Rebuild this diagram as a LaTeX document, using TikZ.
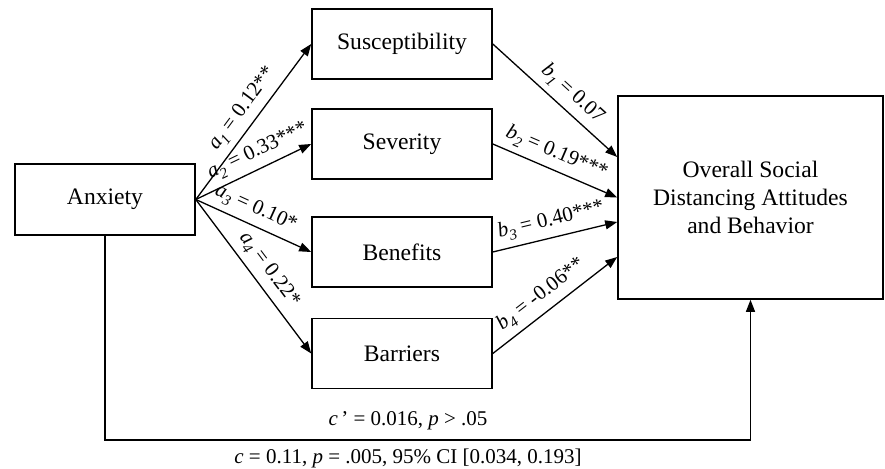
\documentclass[tikz,border=0pt]{standalone}
\usepackage{fontspec}
\setmainfont{Liberation Serif}
\usetikzlibrary{arrows.meta}
\newcommand{\vsub}[2]{\textit{#1}\raisebox{-0.55ex}{\fontsize{7.5}{8}\selectfont\textit{#2}}}
\begin{document}
\begin{tikzpicture}[x=0.5pt,y=-0.5pt,
  box/.style={draw, line width=0.8pt, minimum width=90pt, minimum height=35pt, inner sep=0pt,
    font=\fontsize{11.8}{14}\selectfont},
  arr/.style={-{Triangle[length=6pt,width=4.5pt]}, line width=0.65pt},
  lab/.style={font=\fontsize{10.5}{12}\selectfont, sloped, above=2pt, inner sep=1pt},
  plainlab/.style={font=\fontsize{10.5}{12}\selectfont, inner sep=0pt}]
\useasboundingbox (0,0) rectangle (885,469);
\node[box, minimum height=35.5pt] (anx) at (105,199.5) {Anxiety};
\node[box] (sus) at (402,44) {Susceptibility};
\node[box] (sev) at (402,144) {Severity};
\node[box] (ben) at (402,252) {Benefits};
\node[box] (bar) at (402,353.5) {Barriers};
\node[box, minimum width=132.5pt, minimum height=101.5pt, align=center] (out) at (750.5,197.5)
  {Overall Social\\Distancing Attitudes\\and Behavior};
\coordinate (t1) at ([yshift=20.25pt]out.west);
\coordinate (t2) at (out.west);
\coordinate (t3) at ([yshift=-12.25pt]out.west);
\coordinate (t4) at ([yshift=-29.75pt]out.west);
\draw[arr] (anx.east) -- node[lab, pos=0.52] {\vsub{a}{1} = 0.12**} (sus.west);
\draw[arr] (anx.east) -- node[lab, pos=0.6] {\vsub{a}{2} = 0.33***} (sev.west);
\draw[arr] (anx.east) -- node[lab, pos=0.46] {\vsub{a}{3} = 0.10*} (ben.west);
\draw[arr] (anx.east) -- node[lab, pos=0.52] {\vsub{a}{4} = 0.22*} (bar.west);
\draw[arr] (sus.east) -- node[lab, pos=0.55] {\vsub{b}{1} = 0.07} (t1);
\draw[arr] (sev.east) -- node[lab, pos=0.46] {\vsub{b}{2} = 0.19***} (t2);
\draw[arr] (ben.east) -- node[lab, pos=0.5] {\vsub{b}{3} = 0.40***} (t3);
\draw[arr] (bar.east) -- node[lab, pos=0.47] {\vsub{b}{4} = -0.06**} (t4);
\coordinate (cc) at (408,440);
\draw[arr] (anx.south) |- (cc) -| (out.south);
\node[plainlab] (cprime) at (408,421) {\textit{c}\,’ = 0.016, \textit{p} > .05};
\node[plainlab] (ctot) at (408,458) {\textit{c} = 0.11, \textit{p} = .005, 95\% CI [0.034, 0.193]};
\end{tikzpicture}
\end{document}
